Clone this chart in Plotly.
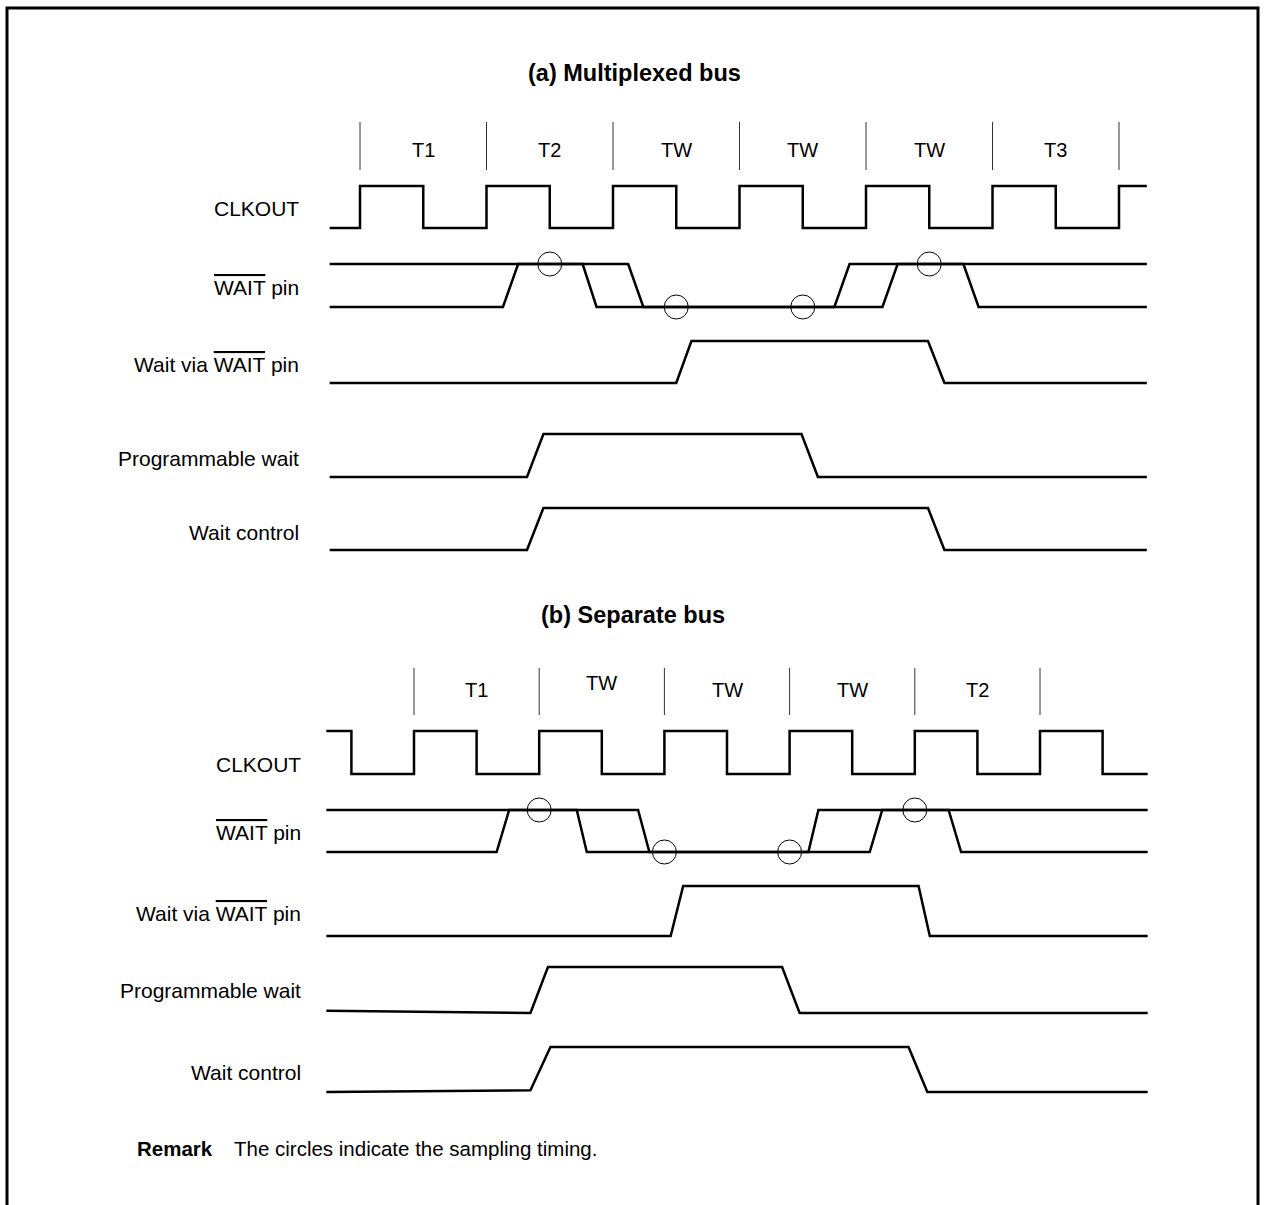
import plotly.graph_objects as go

# ---- data: transition times in clock cycles, levels 0 = low, 1 = high ----
# (a) multiplexed bus
a_cycles = ["T1", "T2", "TW", "TW", "TW", "T3"]
a_clk_t = [-0.24, 0, 0, 0.5, 0.5, 1, 1, 1.5, 1.5, 2, 2, 2.5, 2.5, 3, 3, 3.5, 3.5,
           4, 4, 4.5, 4.5, 5, 5, 5.5, 5.5, 6, 6, 6.22]
a_clk_v = [0, 0, 1, 1, 0, 0, 1, 1, 0, 0, 1, 1, 0, 0, 1, 1, 0, 0, 1, 1, 0, 0, 1, 1, 0, 0, 1, 1]
a_wait1_t = [-0.24, 2.12, 2.24, 3.75, 3.87, 6.22]
a_wait1_v = [1, 1, 0, 0, 1, 1]
a_wait2_t = [-0.24, 1.13, 1.25, 1.76, 1.87, 4.13, 4.25, 4.77, 4.89, 6.22]
a_wait2_v = [0, 0, 1, 1, 0, 0, 1, 1, 0, 0]
a_sample_t = [1.5, 2.5, 3.5, 4.5]
a_sample_v = [1, 0, 0, 1]
a_viapin_t = [-0.24, 2.50, 2.62, 4.49, 4.62, 6.22]
a_prog_t = [-0.24, 1.32, 1.45, 3.49, 3.62, 6.22]
a_ctrl_t = [-0.24, 1.32, 1.45, 4.49, 4.62, 6.22]
pulse_v = [0, 0, 1, 1, 0, 0]

# (b) separate bus
b_cycles = ["T1", "TW", "TW", "TW", "T2"]
b_clk_t = [-0.70, -0.5, -0.5, 0, 0, 0.5, 0.5, 1, 1, 1.5, 1.5, 2, 2, 2.5, 2.5, 3, 3,
           3.5, 3.5, 4, 4, 4.5, 4.5, 5, 5, 5.5, 5.5, 5.86]
b_clk_v = [1, 1, 0, 0, 1, 1, 0, 0, 1, 1, 0, 0, 1, 1, 0, 0, 1, 1, 0, 0, 1, 1, 0, 0, 1, 1, 0, 0]
b_wait1_t = [-0.70, 1.79, 1.88, 3.15, 3.23, 5.86]
b_wait1_v = [1, 1, 0, 0, 1, 1]
b_wait2_t = [-0.70, 0.66, 0.76, 1.30, 1.38, 3.64, 3.74, 4.27, 4.37, 5.86]
b_wait2_v = [0, 0, 1, 1, 0, 0, 1, 1, 0, 0]
b_sample_t = [1, 2, 3, 4]
b_sample_v = [1, 0, 0, 1]
b_viapin_t = [-0.70, 2.05, 2.15, 4.03, 4.12, 5.86]
b_prog_t = [-0.70, 0.93, 1.07, 2.94, 3.08, 5.86]
b_prog_v = [0.05, 0, 1, 1, 0, 0]
b_ctrl_t = [-0.70, 0.93, 1.09, 3.95, 4.10, 5.86]
b_ctrl_v = [0, 0.04, 1, 1, 0, 0]

# all positions below are window pixels; body margin is removed in the page
W, H = 1265, 1205
FONT = "Liberation Sans, Arial, Helvetica, sans-serif"
OVL = "<span style='text-decoration:overline'>WAIT</span>"

# window x of t=0 and pixels per clock, for each section
A_X0, A_P = 360, 126.5
B_X0, B_P = 414, 125.2


def px(x):
    return x / W


fig = go.Figure()


def wave(t, v, low, high, xa, width=2.5):
    ys = [low - lv * (low - high) for lv in v]
    fig.add_trace(go.Scatter(x=t, y=ys, mode="lines", xaxis=xa, yaxis="y",
                             line=dict(color="black", width=width),
                             hoverinfo="skip", showlegend=False))


def circles(t, v, low, high, xa):
    ys = [low - lv * (low - high) for lv in v]
    fig.add_trace(go.Scatter(x=t, y=ys, mode="markers", xaxis=xa, yaxis="y",
                             marker=dict(symbol="circle-open", size=24,
                                         color="black", line=dict(width=1)),
                             hoverinfo="skip", showlegend=False))


def ticks(n, top, bottom, xa):
    xs, ys = [], []
    for i in range(n + 1):
        xs += [i, i, None]
        ys += [top, bottom, None]
    fig.add_trace(go.Scatter(x=xs, y=ys, mode="lines", xaxis=xa, yaxis="y",
                             line=dict(color="#333", width=1),
                             hoverinfo="skip", showlegend=False))


# ---- section (a) ----
ticks(len(a_cycles), 122, 170, "x")
wave(a_clk_t, a_clk_v, 228, 186, "x")
wave(a_wait1_t, a_wait1_v, 307, 264, "x")
wave(a_wait2_t, a_wait2_v, 307, 264, "x")
circles(a_sample_t, a_sample_v, 307, 264, "x")
wave(a_viapin_t, pulse_v, 383, 341, "x")
wave(a_prog_t, pulse_v, 477, 434, "x")
wave(a_ctrl_t, pulse_v, 550, 508, "x")

# ---- section (b) ----
ticks(len(b_cycles), 668, 715, "x2")
wave(b_clk_t, b_clk_v, 774, 731, "x2")
wave(b_wait1_t, b_wait1_v, 852, 810, "x2")
wave(b_wait2_t, b_wait2_v, 852, 810, "x2")
circles(b_sample_t, b_sample_v, 852, 810, "x2")
wave(b_viapin_t, pulse_v, 936, 886, "x2")
wave(b_prog_t, b_prog_v, 1013, 967, "x2")
wave(b_ctrl_t, b_ctrl_v, 1092, 1047, "x2")

ann = []
for i, lab in enumerate(a_cycles):
    ann.append(dict(x=i + 0.5, y=150, xref="x", yref="y", text=lab, showarrow=False,
                    font=dict(size=20)))
for i, lab in enumerate(b_cycles):
    ann.append(dict(x=i + 0.5, y=683 if i == 1 else 690, xref="x2", yref="y", text=lab,
                    showarrow=False, font=dict(size=20)))

row_labels = [
    ("CLKOUT", 208, 301), (OVL + " pin", 287, 301), ("Wait via " + OVL + " pin", 364, 301),
    ("Programmable wait", 458, 301), ("Wait control", 532, 301),
    ("CLKOUT", 764, 303), (OVL + " pin", 832, 303), ("Wait via " + OVL + " pin", 913, 303),
    ("Programmable wait", 990, 303), ("Wait control", 1072, 303),
]
for txt, y, xr in row_labels:
    ann.append(dict(x=px(xr), y=y, xref="paper", yref="y", text=txt, showarrow=False,
                    xanchor="right", font=dict(size=21)))

ann.append(dict(x=px(634), y=73, xref="paper", yref="y", text="<b>(a) Multiplexed bus</b>",
                showarrow=False, font=dict(size=23.5)))
ann.append(dict(x=px(633), y=615, xref="paper", yref="y", text="<b>(b) Separate bus</b>",
                showarrow=False, font=dict(size=23.5)))
ann.append(dict(x=px(135), y=1148, xref="paper", yref="y", text="<b>Remark</b>",
                showarrow=False, xanchor="left", font=dict(size=20.5)))
ann.append(dict(x=px(232), y=1148, xref="paper", yref="y",
                text="The circles indicate the sampling timing.",
                showarrow=False, xanchor="left", font=dict(size=20.5)))

# open-bottom frame
L, R = px(7), px(1258)
frame = dict(type="path", xref="paper", yref="y",
             path=f"M {L} {H} L {L} 8 L {R} 8 L {R} {H}",
             line=dict(color="black", width=3))

fig.update_layout(
    width=W, height=H,
    margin=dict(l=0, r=0, t=0, b=0),
    paper_bgcolor="white", plot_bgcolor="white",
    font=dict(family=FONT, color="black"),
    showlegend=False,
    annotations=ann,
    shapes=[frame],
    xaxis=dict(range=[-A_X0 / A_P, (W - A_X0) / A_P], visible=False, fixedrange=True),
    xaxis2=dict(range=[-B_X0 / B_P, (W - B_X0) / B_P], visible=False,
                overlaying="x", anchor="y", fixedrange=True),
    yaxis=dict(range=[H, 0], visible=False, fixedrange=True),
)

fig.write_html("out.html", config={"displayModeBar": False},
               post_script="document.body.style.margin = '0';")
